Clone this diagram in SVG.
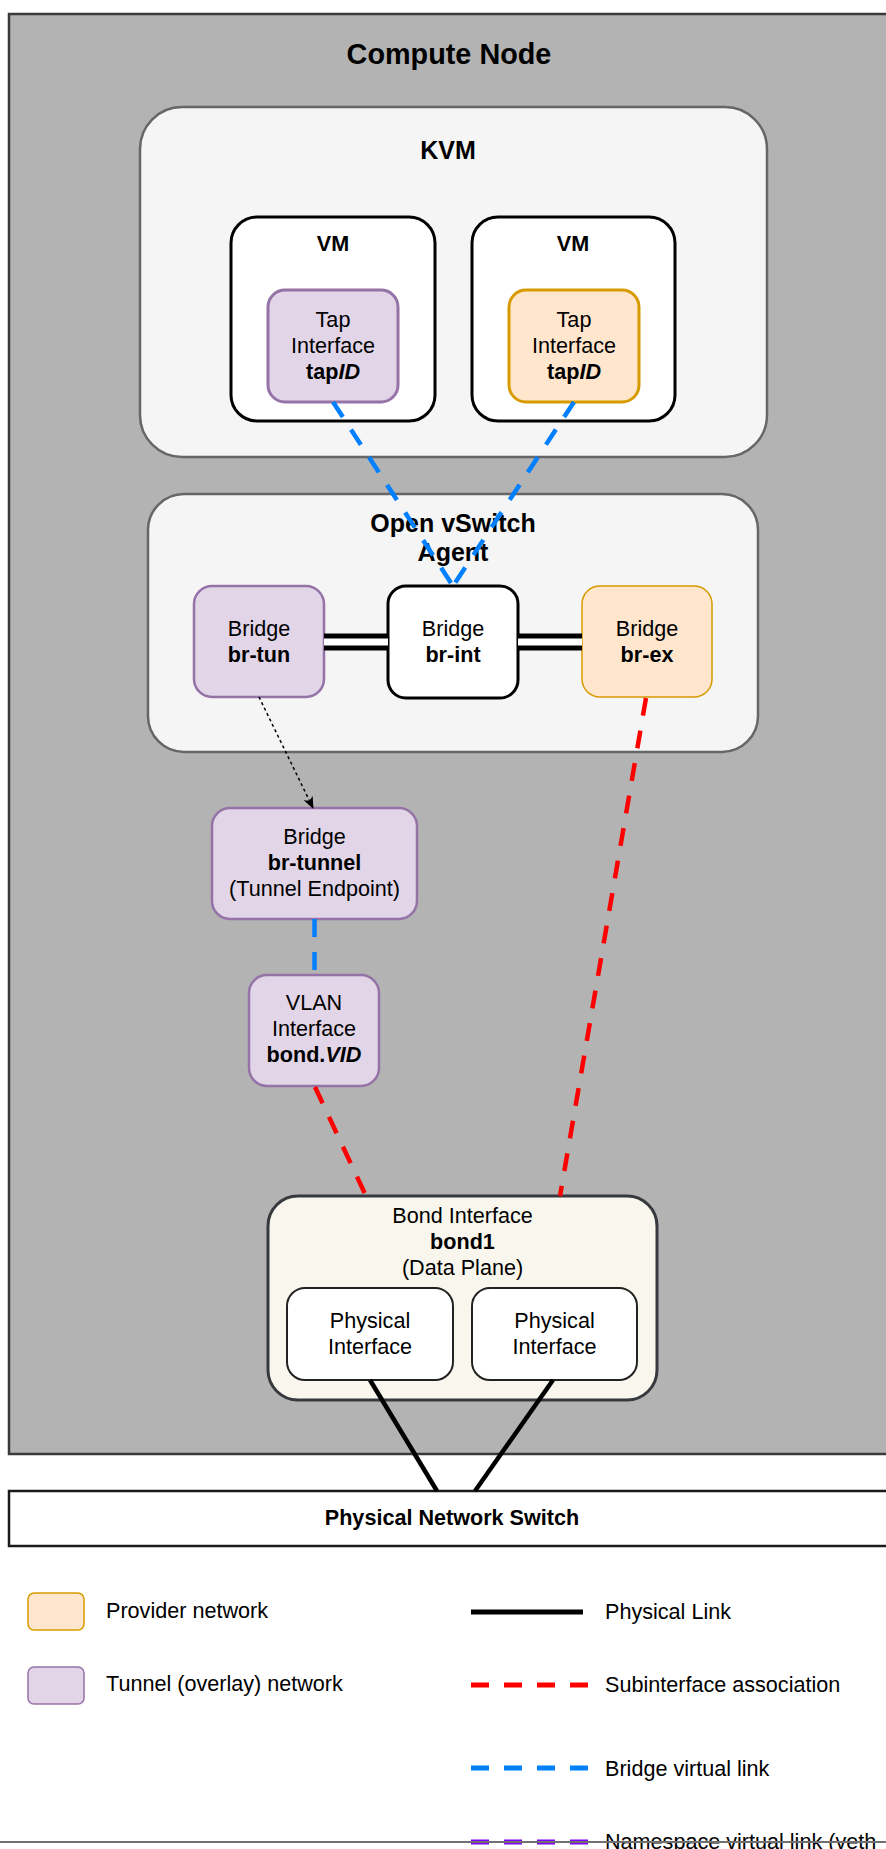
<svg xmlns="http://www.w3.org/2000/svg" width="886" height="1849" viewBox="0 0 886 1849">
<defs>
<style>
text{font-family:"Liberation Sans",Arial,Helvetica,sans-serif;fill:#000;text-anchor:middle}
.t{font-size:21.6px}
.b{font-weight:bold}
.i{font-style:italic}
.lg{text-anchor:start}
.purple{fill:#E1D5E7;stroke:#9673A6;stroke-width:2.5}
.orange{fill:#FFE6CC;stroke:#D79B00;stroke-width:3}
.cont{fill:#F5F5F5;stroke:#666666;stroke-width:2.5}
.white{fill:#FFFFFF;stroke:#000000;stroke-width:3}
.blue{stroke:#007FFF;stroke-width:4.5;stroke-dasharray:18 15;fill:none}
.red{stroke:#FF0000;stroke-width:4.5;stroke-dasharray:18 15;fill:none}
.phys{stroke:#000;stroke-width:4.5;fill:none}
</style>
<marker id="arr" markerWidth="12" markerHeight="10" refX="11" refY="5" orient="auto" markerUnits="userSpaceOnUse">
<path d="M0,0 L12,5 L0,10 L3,5 Z" fill="#000"/>
</marker>
</defs>
<rect width="886" height="1849" fill="#FFFFFF"/>

<g id="compute-node">
<rect x="9" y="14" width="900" height="1440" fill="#B3B3B3" stroke="#3A3A3A" stroke-width="2.5"/>
<text x="449" y="64" class="b" font-size="28.8">Compute Node</text>
</g>

<g id="physical-switch">
<rect x="9" y="1491" width="900" height="55" fill="#FFFFFF" stroke="#1A1A1A" stroke-width="2.5"/>
<text x="452" y="1525" class="t b">Physical Network Switch</text>
</g>

<g id="kvm">
<rect x="140" y="107" width="627" height="350" rx="42" class="cont"/>
<text x="448" y="159" class="b" font-size="25">KVM</text>
</g>

<g id="vm1">
<rect x="231" y="217" width="204" height="204" rx="26" class="white"/>
<text x="333" y="251" class="t b">VM</text>
</g>
<g id="vm2">
<rect x="472" y="217" width="203" height="204" rx="26" class="white"/>
<text x="573" y="251" class="t b">VM</text>
</g>

<g id="tap1">
<rect x="268" y="290" width="130" height="112" rx="17" class="purple" style="stroke-width:3"/>
<text x="333" y="327" class="t">Tap</text>
<text x="333" y="353" class="t">Interface</text>
<text x="333" y="379" class="t b">tap<tspan class="i">ID</tspan></text>
</g>
<g id="tap2">
<rect x="509" y="290" width="130" height="112" rx="17" class="orange"/>
<text x="574" y="327" class="t">Tap</text>
<text x="574" y="353" class="t">Interface</text>
<text x="574" y="379" class="t b">tap<tspan class="i">ID</tspan></text>
</g>

<g id="ovs-agent">
<rect x="148" y="494" width="610" height="258" rx="36" class="cont"/>
<text x="453" y="532" class="b" font-size="25">Open vSwitch</text>
<text x="453" y="561" class="b" font-size="25">Agent</text>
</g>

<g id="br-tun">
<rect x="194" y="586" width="130" height="111" rx="18" class="purple"/>
<text x="259" y="636" class="t">Bridge</text>
<text x="259" y="662" class="t b">br-tun</text>
</g>
<g id="br-int">
<rect x="388" y="586" width="130" height="112" rx="18" class="white"/>
<text x="453" y="636" class="t">Bridge</text>
<text x="453" y="662" class="t b">br-int</text>
</g>
<g id="br-ex">
<rect x="582" y="586" width="130" height="111" rx="18" class="orange" style="stroke-width:1.5"/>
<text x="647" y="636" class="t">Bridge</text>
<text x="647" y="662" class="t b">br-ex</text>
</g>

<g id="br-tunnel">
<rect x="212" y="808" width="205" height="111" rx="18" class="purple"/>
<text x="314.5" y="844" class="t">Bridge</text>
<text x="314.5" y="870" class="t b">br-tunnel</text>
<text x="314.5" y="896" class="t">(Tunnel Endpoint)</text>
</g>

<g id="vlan">
<rect x="249" y="975" width="130" height="111" rx="18" class="purple"/>
<text x="314" y="1010" class="t">VLAN</text>
<text x="314" y="1036" class="t">Interface</text>
<text x="314" y="1062" class="t b">bond.<tspan class="i">VID</tspan></text>
</g>

<g id="bond1">
<rect x="268" y="1196" width="389" height="204" rx="30" fill="#F9F7ED" stroke="#36393D" stroke-width="3"/>
<text x="462.5" y="1223" class="t">Bond Interface</text>
<text x="462.5" y="1249" class="t b">bond1</text>
<text x="462.5" y="1275" class="t">(Data Plane)</text>
</g>
<g id="phys1">
<rect x="287" y="1288" width="166" height="92" rx="18" fill="#FFFFFF" stroke="#222" stroke-width="2"/>
<text x="370" y="1328" class="t">Physical</text>
<text x="370" y="1354" class="t">Interface</text>
</g>
<g id="phys2">
<rect x="472" y="1288" width="165" height="92" rx="18" fill="#FFFFFF" stroke="#222" stroke-width="2"/>
<text x="554.5" y="1328" class="t">Physical</text>
<text x="554.5" y="1354" class="t">Interface</text>
</g>

<g id="connectors">
<line x1="333" y1="402" x2="453" y2="586" class="blue"/>
<line x1="574" y1="402" x2="453" y2="586" class="blue"/>
<line x1="324" y1="642" x2="388" y2="642" stroke="#000" stroke-width="17"/>
<line x1="324" y1="642" x2="388" y2="642" stroke="#FFF" stroke-width="7"/>
<line x1="518" y1="642" x2="582" y2="642" stroke="#000" stroke-width="17"/>
<line x1="518" y1="642" x2="582" y2="642" stroke="#FFF" stroke-width="7"/>
<line x1="259" y1="697" x2="313" y2="808" stroke="#000" stroke-width="1.5" stroke-dasharray="3 3" marker-end="url(#arr)"/>
<line x1="314.5" y1="919" x2="314.5" y2="975" class="blue"/>
<line x1="315" y1="1087" x2="366" y2="1196" class="red"/>
<line x1="646" y1="698" x2="560" y2="1196" class="red"/>
<line x1="370" y1="1380" x2="437" y2="1491" class="phys"/>
<line x1="553" y1="1380" x2="475" y2="1491" class="phys"/>
</g>

<g id="legend">
<rect x="28" y="1593" width="56" height="37" rx="6" fill="#FFE6CC" stroke="#D79B00" stroke-width="1.5"/>
<text x="106" y="1618" class="t lg">Provider network</text>
<rect x="28" y="1667" width="56" height="37" rx="6" fill="#E1D5E7" stroke="#9673A6" stroke-width="1.5"/>
<text x="106" y="1691" class="t lg">Tunnel (overlay) network</text>
<line x1="471" y1="1612" x2="583" y2="1612" stroke="#000" stroke-width="5"/>
<text x="605" y="1619" class="t lg">Physical Link</text>
<line x1="471" y1="1685" x2="589" y2="1685" stroke="#FF0000" stroke-width="5" stroke-dasharray="18 15"/>
<text x="605" y="1692" class="t lg">Subinterface association</text>
<line x1="471" y1="1768" x2="589" y2="1768" stroke="#007FFF" stroke-width="5" stroke-dasharray="18 15"/>
<text x="605" y="1776" class="t lg">Bridge virtual link</text>
<line x1="471" y1="1842" x2="589" y2="1842" stroke="#7F00FF" stroke-width="5" stroke-dasharray="18 15"/>
<text x="605" y="1849" class="t lg">Namespace virtual link (veth</text>
<line x1="0" y1="1842" x2="886" y2="1842" stroke="#707070" stroke-width="2"/>
</g>
</svg>
